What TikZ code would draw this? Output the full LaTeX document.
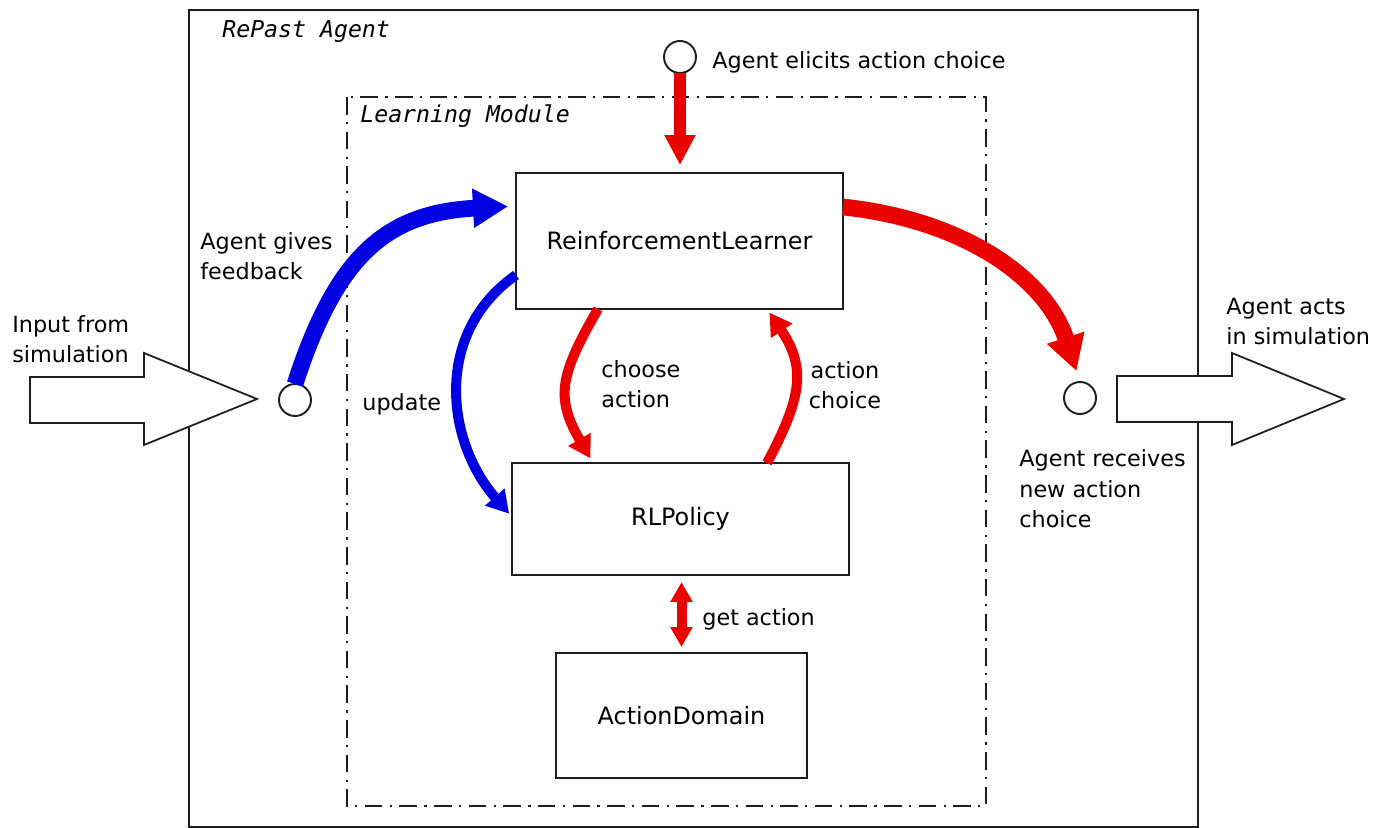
\documentclass[tikz,border=0pt]{standalone}
\usepackage{fontspec}
\setmainfont{DejaVu Sans}
\newfontfamily\titlefont{DejaVu Sans Mono}
\usetikzlibrary{arrows.meta}
\definecolor{arrred}{RGB}{235,0,0}
\definecolor{arrblue}{RGB}{0,0,225}
\definecolor{frame}{RGB}{30,30,30}
\begin{document}
\begin{tikzpicture}[x=0.02cm,y=0.02cm,
  lbl/.style={font=\fontsize{12.7}{17.6}\selectfont, inner sep=0, align=left},
  title/.style={font=\fontsize{13.2}{16}\selectfont\titlefont\itshape, inner sep=0},
  classbox/.style={draw=frame, line width=1.5pt, inner sep=0, outer sep=0,
                   font=\fontsize{13.6}{16}\selectfont},
  port/.style={circle, draw=frame, line width=1.1pt, fill=white, inner sep=0,
               minimum size=0.64cm, outer sep=0},
  flow/.style={line width=5.7pt, -{Triangle[length=12.5pt,width=14pt]}},
  bigflow/.style={line width=9.5pt, -{Triangle[length=20pt,width=21pt]}},
  ioarrow/.style={draw=frame, fill=white, line width=1pt, line join=miter},
]
\useasboundingbox (0,0) rectangle (1376,828);

% agent frame and learning module frame
\draw[frame, line width=1.1pt] (189,818) rectangle (1198,1);
\node[title, anchor=base west] (ttl) at (222,790) {RePast Agent};
\draw[frame, line width=0.8pt, dash pattern=on 10pt off 4.2pt on 1.3pt off 4.2pt]
  (347,731) rectangle (986,22);
\node[title, anchor=base west] (lmt) at (360,705) {Learning Module};

% classes
\node[classbox, minimum width=6.54cm, minimum height=2.72cm] (rl) at (679.5,587) {ReinforcementLearner};
\node[classbox, minimum width=6.74cm, minimum height=2.24cm] (rlp) at (680.5,309) {RLPolicy};
\node[classbox, minimum width=5.02cm, minimum height=2.5cm] (ad) at (681.5,112.5) {ActionDomain};

% ports
\node[port] (ptop) at (680,771) {};
\node[port] (pin) at (295,428) {};
\node[port] (pout) at (1080,430) {};

% input / output block arrows
\draw[ioarrow] (30,451) -- (144,451) -- (144,475) -- (257,429) -- (144,383) -- (144,405) -- (30,405) -- cycle;
\draw[ioarrow] (1117,452) -- (1232,452) -- (1232,475) -- (1344,429) -- (1232,383) -- (1232,406) -- (1117,406) -- cycle;

% labels (multi-line labels are placed by the baseline of their last line)
\node[lbl, anchor=base west] (elicit) at (712,759) {Agent elicits action choice};
\node[lbl, anchor=base west] (gives) at (200,548) {Agent gives\\feedback};
\node[lbl, anchor=base west] (input) at (12,465) {Input from\\simulation};
\node[lbl, anchor=base west] (upd) at (362,417) {update};
\node[lbl, anchor=base west] (choose) at (601,420) {choose\\action};
\node[lbl, align=center, anchor=base] (achoice) at (845,419) {action\\choice};
\node[lbl, anchor=base west] (acts) at (1226,483) {Agent acts\\in simulation};
\node[lbl, anchor=base west] (recv) at (1019,300) {Agent receives\\new action\\choice};
\node[lbl, anchor=base west] (getact) at (702,202) {get action};

% control flow
\draw[arrred, line width=6.3pt, -{Triangle[length=17pt,width=16.5pt]}, shorten >=4.5pt]
  (ptop.south) -- (ptop.south |- rl.north);
\draw[bigflow, arrblue, shorten >=4.5pt]
  (pin.north) .. controls +(72:132) and +(183:132) .. ([yshift=0.7cm]rl.west);
\draw[bigflow, arrred, shorten >=6.5pt]
  ([yshift=0.68cm]rl.east) .. controls +(-6:120) and +(108:110) .. (pout.north);
\draw[flow, arrblue, shorten >=2.5pt]
  ([yshift=-0.68cm]rl.west) .. controls +(215:101) and +(131:101) .. ([yshift=0.04cm]rlp.west);
\draw[flow, arrred, shorten >=3pt]
  ([xshift=-1.63cm]rl.south) .. controls +(240:76) and +(120:76) .. ([xshift=-1.75cm]rlp.north);
\draw[flow, arrred, shorten >=2.5pt]
  ([xshift=1.73cm]rlp.north) .. controls +(62:72) and +(-56:72) .. ([xshift=1.75cm]rl.south);
\draw[arrred, line width=5.7pt, {Triangle[length=11.4pt,width=12pt]}-{Triangle[length=11.4pt,width=12pt]},
      shorten <=4pt, shorten >=3.4pt] (ad.north |- rlp.south) -- (ad.north);
\end{tikzpicture}
\end{document}
